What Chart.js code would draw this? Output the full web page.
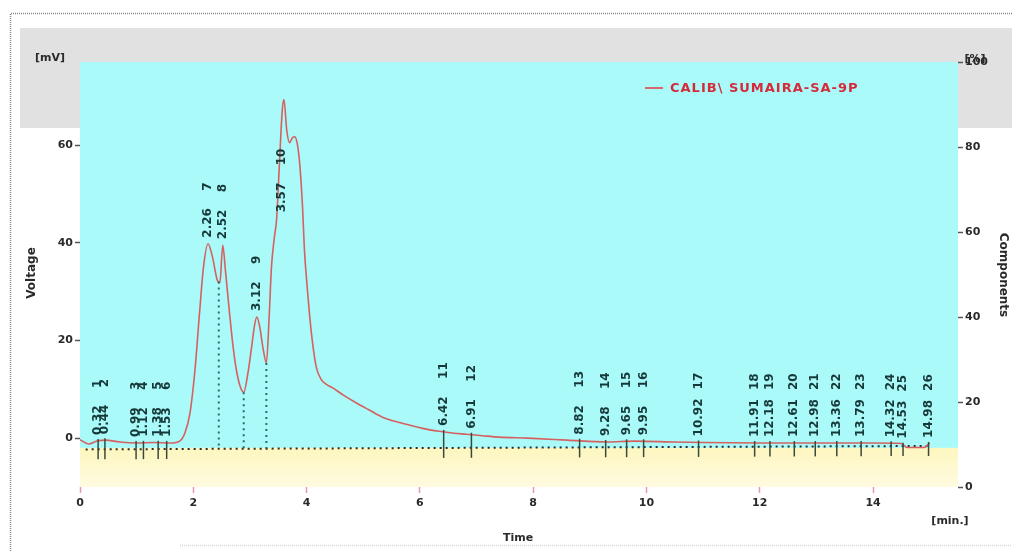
<!DOCTYPE html>
<html>
<head>
<meta charset="utf-8">
<script src="https://cdn.jsdelivr.net/npm/chart.js@4"></script>
<style>
  body { margin: 0; background: #fff; }
  #wrap { width: 1012px; height: 552px; position: relative; }
</style>
</head>
<body>
<div id="wrap"><canvas id="chrom"></canvas></div>
<script>
//chromatogram trace (time in min, signal in mV)
const timeMin = [0.0, 0.15, 0.3, 0.45, 0.7, 1.0, 1.3, 1.6, 1.76, 1.85, 1.94, 2.03, 2.11, 2.18, 2.26, 2.34, 2.42, 2.47,
  2.52, 2.57, 2.64, 2.70, 2.76, 2.83, 2.89, 2.96, 3.03, 3.08, 3.12, 3.17, 3.23, 3.29, 3.34, 3.38, 3.43, 3.47,
  3.52, 3.57, 3.60, 3.65, 3.70, 3.75, 3.79, 3.84, 3.88, 3.93, 3.96, 4.01, 4.05, 4.10, 4.17, 4.26, 4.35, 4.46,
  4.65, 4.88, 5.1, 5.34, 5.6, 5.81, 6.05, 6.34, 6.6, 6.82, 7.1, 7.4, 7.9, 8.6, 9.3, 9.8, 10.5, 11.0, 12.0,
  13.0, 14.0, 14.5, 14.6, 14.9, 15.0];
const signalMv = [-0.3, -1.2, -0.6, -0.4, -0.8, -1.0, -0.9, -1.0, -0.6, 1.0, 5, 14, 25.6, 35, 39.8, 37, 32.5, 31.8,
  39.5, 34, 25.6, 19, 14, 10.5, 9.4, 13, 18.7, 23, 24.8, 23, 18.5, 15.4, 25, 35, 41, 44.7,
  56, 67, 69.3, 63, 60.5, 61.5, 61.7, 60, 56, 47, 39, 31, 25.6, 20, 14.6, 12, 11, 10.3,
  8.8, 7.2, 5.8, 4.3, 3.3, 2.7, 2.0, 1.4, 1.0, 0.8, 0.5, 0.2, 0.0, -0.4, -0.8, -0.6, -0.8, -0.9, -1.0,
  -1.0, -1.0, -1.1, -1.9, -1.9, -1.0];

//integration baseline
const baselineTime = [0.1, 15.0];
const baselineMv = [-2.3, -1.6];

//peak table
const peakNumbers = [1, 2, 3, 4, 5, 6, 7, 8, 9, 10, 11, 12, 13, 14, 15, 16, 17, 18, 19, 20, 21, 22, 23, 24, 25, 26];
const peakTimes = [0.32, 0.44, 0.99, 1.12, 1.38, 1.53, 2.26, 2.52, 3.12, 3.57, 6.42, 6.91, 8.82, 9.28, 9.65, 9.95,
  10.92, 11.91, 12.18, 12.61, 12.98, 13.36, 13.79, 14.32, 14.53, 14.98];
const valleyTimes = [2.45, 2.89, 3.29];

//axis ticks
const timeTicks = [0, 2, 4, 6, 8, 10, 12, 14];
const voltageTicks = [0, 20, 40, 60];
const componentTicks = [0, 20, 40, 60, 80, 100];

const seriesName = "CALIB\\ SUMAIRA-SA-9P";
const labelFont = "bold 12px 'DejaVu Sans'";

function signalAt(t) {
  for (let i = 1; i < timeMin.length; i++) {
    if (timeMin[i] >= t) {
      const f = (t - timeMin[i - 1]) / (timeMin[i] - timeMin[i - 1]);
      return signalMv[i - 1] + f * (signalMv[i] - signalMv[i - 1]);
    }
  }
  return signalMv[signalMv.length - 1];
}
function baselineAt(t) {
  const f = (t - baselineTime[0]) / (baselineTime[1] - baselineTime[0]);
  return baselineMv[0] + f * (baselineMv[1] - baselineMv[0]);
}

//background: frame, grey band, cyan + yellow plot area
const backdrop = {
  id: "backdrop",
  beforeDraw(chart) {
    const { ctx, chartArea: a, scales } = chart;
    ctx.save();
    ctx.fillStyle = "#ffffff";
    ctx.fillRect(0, 0, chart.width, chart.height);
    ctx.fillStyle = "#e1e1e1";
    ctx.fillRect(20, 28, chart.width - 20, 100);

    ctx.strokeStyle = "#8a8a8a";
    ctx.setLineDash([1, 1]);
    ctx.lineWidth = 1.5;
    ctx.beginPath();
    ctx.moveTo(10.5, 551);
    ctx.lineTo(10.5, 13.5);
    ctx.lineTo(chart.width, 13.5);
    ctx.stroke();
    ctx.strokeStyle = "#d8d8d8";
    ctx.beginPath();
    ctx.moveTo(180, 545.5);
    ctx.lineTo(chart.width, 545.5);
    ctx.stroke();
    ctx.setLineDash([]);

    const split = scales.y.getPixelForValue(-2);
    ctx.fillStyle = "#aafafa";
    ctx.fillRect(a.left, a.top, a.width, split - a.top);
    const yellow = ctx.createLinearGradient(0, split, 0, a.bottom);
    yellow.addColorStop(0, "#fdf6bf");
    yellow.addColorStop(1, "#fefbe0");
    ctx.fillStyle = yellow;
    ctx.fillRect(a.left, split, a.width, a.bottom - split);
    ctx.restore();
  }
};

//peak markers, labels, titles, legend
const annotate = {
  id: "annotate",
  afterDatasetsDraw(chart) {
    const { ctx, scales } = chart;
    const x = scales.x, y = scales.y;
    ctx.save();

    //dotted drop lines at the valleys
    ctx.strokeStyle = "#2c6b6b";
    ctx.lineWidth = 2;
    ctx.setLineDash([2, 4]);
    valleyTimes.forEach(t => {
      const px = x.getPixelForValue(t);
      ctx.beginPath();
      ctx.moveTo(px, y.getPixelForValue(signalAt(t)));
      ctx.lineTo(px, y.getPixelForValue(baselineAt(t)));
      ctx.stroke();
    });
    ctx.setLineDash([]);

    //solid ticks for the small peaks
    ctx.strokeStyle = "#3a4a3a";
    ctx.lineWidth = 1.5;
    peakTimes.forEach(t => {
      const s = signalAt(t);
      if (s > 5) return;
      const px = x.getPixelForValue(t);
      ctx.beginPath();
      ctx.moveTo(px, y.getPixelForValue(s) - 2);
      ctx.lineTo(px, y.getPixelForValue(baselineAt(t)) + 10);
      ctx.stroke();
    });

    //rotated peak labels
    ctx.fillStyle = "#173838";
    ctx.font = labelFont;
    ctx.textBaseline = "middle";
    ctx.textAlign = "left";
    peakTimes.forEach((t, i) => {
      const px = x.getPixelForValue(t);
      const bottom = Math.max(y.getPixelForValue(signalAt(t)), y.getPixelForValue(45)) - 6;
      ctx.save();
      ctx.translate(px, bottom);
      ctx.rotate(-Math.PI / 2);
      ctx.fillText(t.toFixed(2), 0, 0);
      ctx.fillText(String(peakNumbers[i]), 47, 0);
      ctx.restore();
    });

    //axis titles and units
    ctx.fillStyle = "#2a2a2a";
    ctx.font = "bold 11px 'DejaVu Sans'";
    ctx.textAlign = "center";
    ctx.fillText("Time", 518, 538);
    ctx.fillText("[min.]", 950, 521);
    ctx.fillText("[mV]", 50, 58);
    ctx.fillText("[%]", 975, 59);
    ctx.font = "bold 12px 'DejaVu Sans'";
    ctx.save();
    ctx.translate(32, 273);
    ctx.rotate(-Math.PI / 2);
    ctx.fillText("Voltage", 0, 0);
    ctx.restore();
    ctx.save();
    ctx.translate(1003, 275);
    ctx.rotate(Math.PI / 2);
    ctx.fillText("Components", 0, 0);
    ctx.restore();

    //legend
    ctx.strokeStyle = "#d86a6a";
    ctx.lineWidth = 2;
    ctx.beginPath();
    ctx.moveTo(645, 88);
    ctx.lineTo(663, 88);
    ctx.stroke();
    ctx.fillStyle = "#d42a3a";
    ctx.font = "bold 13px 'DejaVu Sans'";
    ctx.letterSpacing = "1px";
    ctx.textAlign = "left";
    ctx.fillText(seriesName, 670, 89);
    ctx.restore();
  }
};

const keepTicks = list => axis => {
  axis.ticks = list.map(v => ({ value: v }));
};
const tickFont = { family: "DejaVu Sans", size: 11, weight: "bold" };

new Chart(document.getElementById("chrom"), {
  type: "line",
  data: {
    datasets: [
      {
        label: seriesName,
        data: timeMin.map((t, i) => ({ x: t, y: signalMv[i] })),
        borderColor: "rgb(214,96,96)",
        borderWidth: 1.6,
        pointRadius: 0,
        cubicInterpolationMode: "monotone",
        order: 1
      },
      {
        label: "baseline",
        data: baselineTime.map((t, i) => ({ x: t, y: baselineMv[i] })),
        borderColor: "#2b2b2b",
        borderWidth: 2,
        borderDash: [2, 4],
        pointRadius: 0,
        order: 2
      }
    ]
  },
  options: {
    responsive: true,
    maintainAspectRatio: false,
    animation: false,
    layout: { padding: { top: 62, left: 0, right: 0, bottom: 0 } },
    plugins: {
      legend: { display: false },
      tooltip: { enabled: false }
    },
    scales: {
      x: {
        type: "linear",
        min: 0,
        max: 15.5,
        afterBuildTicks: keepTicks(timeTicks),
        afterFit: s => { s.height = 65; },
        border: { display: false },
        grid: { drawOnChartArea: false, tickLength: 6, tickColor: "#e79aa8", tickWidth: 1.5 },
        ticks: { font: tickFont, color: "#2a2a2a", padding: 4, maxRotation: 0 }
      },
      y: {
        position: "left",
        min: -10,
        max: 77,
        afterBuildTicks: keepTicks(voltageTicks),
        afterFit: s => { s.width = 80; },
        border: { display: false },
        grid: { drawOnChartArea: false, tickLength: 5, tickColor: "#555", tickWidth: 1.5 },
        ticks: { font: tickFont, color: "#2a2a2a", padding: 2 }
      },
      y2: {
        position: "right",
        min: 0,
        max: 100,
        afterBuildTicks: keepTicks(componentTicks),
        afterFit: s => { s.width = 54; },
        border: { display: false },
        grid: { drawOnChartArea: false, tickLength: 5, tickColor: "#555", tickWidth: 1.5 },
        ticks: { font: tickFont, color: "#2a2a2a", padding: 2 }
      }
    }
  },
  plugins: [backdrop, annotate]
});
</script>
</body>
</html>
